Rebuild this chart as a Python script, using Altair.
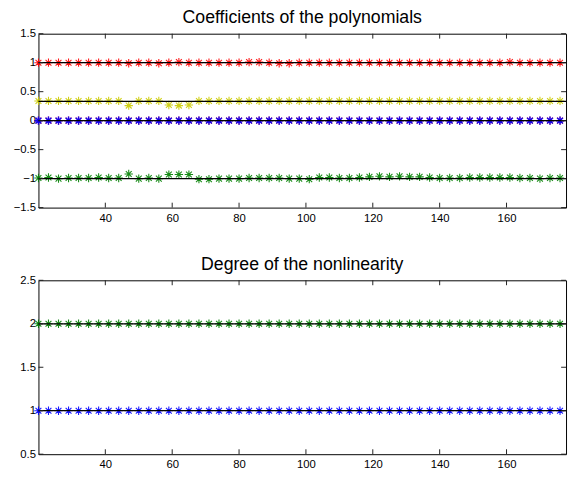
import altair as alt
import pandas as pd

# ---- data ----
x_vals = [20, 23, 26, 29, 32, 35, 38, 41, 44, 47, 50, 53, 56, 59, 62, 65, 68, 71,
          74, 77, 80, 83, 86, 89, 92, 95, 98, 101, 104, 107, 110, 113, 116, 119,
          122, 125, 128, 131, 134, 137, 140, 143, 146, 149, 152, 155, 158, 161,
          164, 167, 170, 173, 176]

coef_red = [1.00, 1.00, 1.00, 1.00, 1.00, 1.00, 1.00, 1.00, 1.00, 0.99, 1.00, 1.00,
            0.99, 1.00, 1.01, 1.00, 1.00, 1.00, 1.00, 1.00, 1.00, 1.01, 1.01, 1.00,
            0.99, 0.99, 1.00, 1.00, 1.00, 1.00, 1.00, 1.00, 1.00, 1.00, 1.00, 1.00,
            1.00, 1.00, 1.00, 1.00, 1.00, 1.00, 1.00, 1.00, 1.00, 1.00, 1.00, 1.01,
            1.00, 1.00, 1.00, 1.00, 1.00]
coef_yellow = [0.34, 0.34, 0.34, 0.34, 0.34, 0.34, 0.34, 0.34, 0.34, 0.26, 0.34, 0.34,
               0.34, 0.27, 0.26, 0.27, 0.34, 0.34, 0.34, 0.34, 0.34, 0.34, 0.34, 0.34,
               0.34, 0.34, 0.34, 0.34, 0.34, 0.34, 0.34, 0.34, 0.34, 0.34, 0.34, 0.34,
               0.34, 0.34, 0.34, 0.34, 0.34, 0.34, 0.34, 0.34, 0.34, 0.34, 0.34, 0.34,
               0.34, 0.34, 0.34, 0.34, 0.34]
coef_red0 = [0.0] * 53
coef_blue = [0.0] * 53
coef_green = [-0.99, -0.98, -1.00, -0.99, -0.99, -0.99, -0.98, -0.99, -0.99, -0.92,
              -1.00, -0.99, -1.00, -0.93, -0.93, -0.93, -1.01, -1.01, -1.00, -1.00,
              -1.00, -0.99, -0.99, -0.99, -0.99, -1.00, -1.00, -1.01, -0.98, -0.98,
              -0.99, -0.99, -0.98, -0.97, -0.96, -0.97, -0.96, -0.97, -0.97, -0.98,
              -0.99, -0.99, -0.99, -0.98, -0.98, -0.98, -0.98, -0.98, -0.99, -0.99,
              -1.00, -0.99, -0.99]
coef_true = [1.0, 1/3, 0.0, -1.0]

deg_green = [2.0] * 53
deg_blue = [1.0] * 53
deg_true = [2.0, 1.0]

x_ticks = [40, 60, 80, 100, 120, 140, 160]
y_ticks_top = [-1.5, -1, -0.5, 0, 0.5, 1, 1.5]
y_ticks_bot = [0.5, 1, 1.5, 2, 2.5]

W, H = 537, 177
FONT = "Liberation Sans"
STAR = "M-1,0L1,0M0,-1L0,1M-0.7,-0.7L0.7,0.7M-0.7,0.7L0.7,-0.7"

def long(series):
    rows = []
    for name, vals in series:
        for xv, yv in zip(x_vals, vals):
            rows.append({"x": xv, "y": yv, "s": name})
    return pd.DataFrame(rows)

top_df = long([("red0", coef_red0), ("red", coef_red), ("yellow", coef_yellow),
               ("blue", coef_blue), ("green", coef_green)])
bot_df = long([("green", deg_green), ("blue", deg_blue)])

colors = {"red": "#ff0000", "red0": "#ff0000", "yellow": "#cccc00",
          "blue": "#0000ff", "green": "#008000"}


def panel(df, order, true_vals, ydom, yticks, title):
    xs = alt.Scale(domain=[20, 177.8], nice=False, zero=False)
    ys = alt.Scale(domain=ydom, nice=False, zero=False)
    xax = alt.Axis(values=x_ticks, ticks=False, tickSize=0, domain=False, grid=False,
                   labelFont=FONT, labelFontSize=11.5, labelColor="#000",
                   labelPadding=5, labelOverlap=False, title=None)
    yax = alt.Axis(values=yticks, ticks=False, tickSize=0, domain=False, grid=False,
                   labelFont=FONT, labelFontSize=11.5, labelColor="#000", format="~g",
                   labelPadding=3, labelOverlap=False, minExtent=30, maxExtent=30,
                   title=None)
    layers = []
    for name in order:
        sub = df[df.s == name]
        sw = 1.5 if name == "blue" and len(order) > 2 else 1.1
        layers.append(
            alt.Chart(sub).mark_point(shape=STAR, filled=False, size=72,
                                      strokeWidth=sw, color=colors[name], opacity=0.9)
            .encode(x=alt.X("x:Q", scale=xs, axis=xax),
                    y=alt.Y("y:Q", scale=ys, axis=yax))
        )
    tdf = pd.DataFrame({"y": true_vals})
    layers.append(alt.Chart(tdf).mark_rule(color="#000", strokeWidth=1.3)
                  .encode(y=alt.Y("y:Q", scale=ys, axis=yax)))
    xt = pd.DataFrame({"x": x_ticks})
    yt = pd.DataFrame({"y": yticks})
    layers.append(alt.Chart(xt).mark_rule(color="#222", strokeWidth=1)
                  .encode(x=alt.X("x:Q", scale=xs, axis=xax), y=alt.value(0), y2=alt.value(5)))
    layers.append(alt.Chart(xt).mark_rule(color="#222", strokeWidth=1)
                  .encode(x=alt.X("x:Q", scale=xs, axis=xax), y=alt.value(H), y2=alt.value(H - 5)))
    layers.append(alt.Chart(yt).mark_rule(color="#222", strokeWidth=1)
                  .encode(y=alt.Y("y:Q", scale=ys, axis=yax), x=alt.value(0), x2=alt.value(5)))
    layers.append(alt.Chart(yt).mark_rule(color="#222", strokeWidth=1)
                  .encode(y=alt.Y("y:Q", scale=ys, axis=yax), x=alt.value(W), x2=alt.value(W - 5)))
    return alt.layer(*layers).properties(
        width=W, height=H,
        title=alt.TitleParams(title, font=FONT, fontSize=18, fontWeight="normal",
                              color="#000", offset=1))


top = panel(top_df, ["red0", "red", "yellow", "blue", "green"], coef_true,
            [-1.5, 1.5], y_ticks_top, "Coefficients of the polynomials")
bot = panel(bot_df, ["green", "blue"], deg_true, [0.5, 2.5], y_ticks_bot,
            "Degree of the nonlinearity")

chart = alt.vconcat(top, bot, spacing=31).properties(
    padding={"left": 0, "top": -4, "right": 0, "bottom": 0},
    background="white"
).configure_view(stroke="#000", strokeWidth=1).configure_axis(labelOverlap=False)

chart.save("out.html", embed_options={"renderer": "svg", "actions": False})
